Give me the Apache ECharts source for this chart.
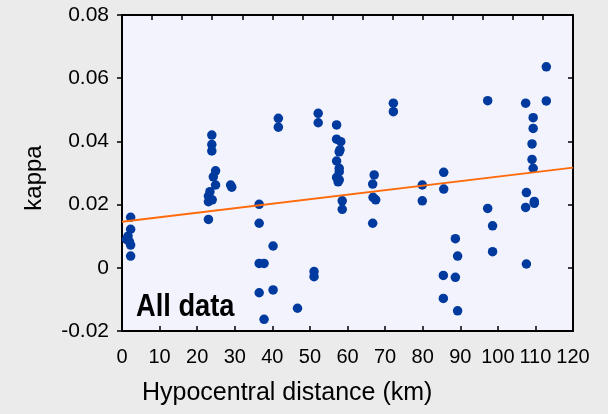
<!DOCTYPE html>
<html>
<head>
<meta charset="utf-8">
<script src="https://cdn.jsdelivr.net/npm/echarts@6/dist/echarts.min.js"></script>
<style>
html,body{margin:0;padding:0;background:#ebebeb;}
#c{width:608px;height:414px;}
</style>
</head>
<body>
<div id="c"></div>
<script>
// Hypocentral distance (km) and kappa values
const distance = [
  2.3,2.3,1.6,1.2,2.0,2.3,2.3,
  23.9,23.9,23.9,24.9,24.3,24.9,23.4,23.0,24.0,23.0,23.0,28.9,29.2,
  36.5,36.5,40.2,36.5,37.8,40.2,36.5,37.8,
  41.6,41.6,46.7,51.1,51.1,52.2,52.2,
  57.1,57.1,58.2,58.0,57.8,57.1,57.8,57.8,57.1,57.8,57.5,58.6,58.6,
  67.1,66.7,66.8,67.5,66.7,
  72.2,72.2,79.9,79.9,85.6,85.6,
  88.7,89.3,85.5,88.7,85.5,89.3,
  97.3,97.3,98.6,98.6,
  112.9,112.9,107.4,109.4,109.4,109.1,109.1,109.4,107.6,107.4,109.7,109.7,107.6
];
const kappa = [
  0.0160,0.0122,0.0100,0.0090,0.0082,0.0072,0.0037,
  0.0420,0.0390,0.0370,0.0307,0.0288,0.0262,0.0241,0.0227,0.0215,0.0209,0.0153,0.0262,0.0255,
  0.0201,0.0141,0.0069,0.0014,0.0014,-0.0070,-0.0079,-0.0163,
  0.0473,0.0445,-0.0128,-0.0012,-0.0028,0.0489,0.0459,
  0.0452,0.0407,0.0399,0.0373,0.0367,0.0338,0.0315,0.0304,0.0286,0.0278,0.0272,0.0212,0.0185,
  0.0294,0.0265,0.0223,0.0215,0.0141,
  0.0521,0.0494,0.0262,0.0212,0.0302,0.0249,
  0.0092,0.0037,-0.0024,-0.0030,-0.0097,-0.0136,
  0.0529,0.0188,0.0133,0.0051,
  0.0636,0.0528,0.0521,0.0475,0.0441,0.0392,0.0343,0.0315,0.0238,0.0191,0.0204,0.0210,0.0012
];
// Regression line endpoints
const fitX = [0, 120];
const fitY = [0.0146, 0.0317];

const xTicks = [0,10,20,30,40,50,60,70,80,90,100,110,120];
const yTicks = [-0.02,0,0.02,0.04,0.06,0.08];

const points = distance.map((d,i)=>[d,kappa[i]]);
const fit = fitX.map((x,i)=>[x,fitY[i]]);

const FONT = "'Liberation Sans', Arial, sans-serif";
const chart = echarts.init(document.getElementById('c'));
const axLine = {show:true, onZero:false, lineStyle:{color:'#000', width:2}};
chart.setOption({
  backgroundColor:'#ebebeb',
  animation:false,
  grid:{left:122, right:35, top:15, bottom:83, show:true, backgroundColor:'#f2f3fd', borderWidth:0},
  xAxis:[
    {type:'value', min:xTicks[0], max:xTicks[xTicks.length-1], interval:10, position:'bottom',
     axisLine:axLine, axisTick:{show:true, inside:true, length:5, lineStyle:{color:'#000', width:1.5}},
     axisLabel:{color:'#000', fontSize:20, fontFamily:FONT, margin:16},
     splitLine:{show:false}},
    {type:'value', min:0, max:15, interval:1, position:'top',
     axisLine:axLine, axisTick:{show:true, inside:true, length:5, lineStyle:{color:'#000', width:1.5}},
     axisLabel:{show:false}, splitLine:{show:false}}
  ],
  yAxis:[
    {type:'value', min:yTicks[0], max:yTicks[yTicks.length-1], interval:0.02, position:'left',
     axisLine:axLine, axisTick:{show:true, inside:false, length:5, lineStyle:{color:'#000', width:1.5}},
     axisLabel:{color:'#000', fontSize:21, fontFamily:FONT, margin:13,
       formatter:v=>Math.abs(v)<1e-9?'0':v.toFixed(2)},
     splitLine:{show:false}},
    {type:'value', min:yTicks[0], max:yTicks[yTicks.length-1], interval:0.02, position:'right',
     axisLine:axLine, axisTick:{show:true, inside:true, length:5, lineStyle:{color:'#000', width:1.5}},
     axisLabel:{show:false}, splitLine:{show:false}}
  ],
  series:[
    {type:'line', data:fit, showSymbol:false, symbol:'none', lineStyle:{color:'#ff6a0a', width:2}, xAxisIndex:0, yAxisIndex:0, silent:true},
    {type:'scatter', data:points, symbolSize:9.5, itemStyle:{color:'#003a9e', opacity:1}, xAxisIndex:0, yAxisIndex:0}
  ],
  graphic:[
    {type:'text', left:136, top:292, z:100, scaleX:0.88,
     style:{text:'All data', fontSize:31, fontWeight:'bold', fontFamily:FONT, fill:'#000'}},
    {type:'text', left:142, top:381, style:{text:'Hypocentral distance (km)', fontSize:25, fontFamily:FONT, fill:'#000'}},
    {type:'text', x:34, y:178, rotation:Math.PI/2,
     style:{text:'kappa', fontSize:24, fontFamily:FONT, fill:'#000', align:'center', verticalAlign:'middle'}}
  ]
});
</script>
</body>
</html>
